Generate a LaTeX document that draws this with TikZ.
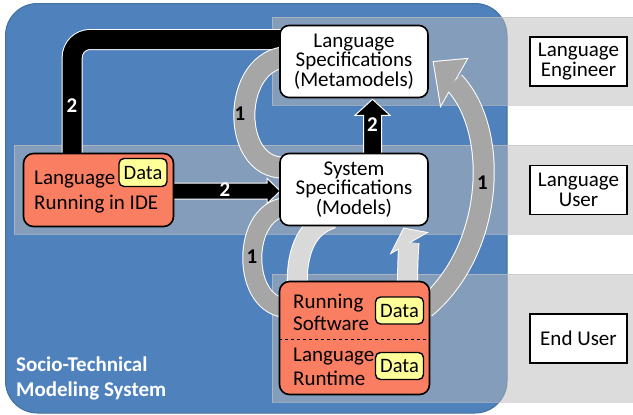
\documentclass[tikz,border=0pt]{standalone}
\usepackage{fontspec}
\setmainfont{Carlito}
\usetikzlibrary{calc}
\definecolor{bluebg}{HTML}{4F81BD}
\definecolor{blueedge}{HTML}{41719C}
\definecolor{bandgray}{HTML}{B9B9B9}
\definecolor{bandedge}{HTML}{C4C4C4}
\definecolor{salmon}{HTML}{FA7F62}
\definecolor{datayel}{HTML}{FFFF99}
\definecolor{arrgray}{HTML}{A6A6A6}
\definecolor{arrlight}{HTML}{D9D9D9}
\pgfdeclarelayer{bg}
\pgfdeclarelayer{arr}
\pgfsetlayers{bg,arr,main}
\tikzset{
  band/.style={fill=bandgray, fill opacity=0.5, draw=bandedge, draw opacity=0.6, line width=1pt},
  specbox/.style={draw=black, line width=1.6pt, rounded corners=9pt, fill=white,
    minimum width=148pt, minimum height=72pt, align=center, inner sep=0pt,
    font=\fontsize{21}{19.5}\selectfont},
  salbox/.style={draw=black, line width=1.6pt, rounded corners=10pt, fill=salmon, inner sep=0pt},
  databox/.style={draw=black, line width=1.4pt, rounded corners=5pt, fill=datayel,
    minimum width=48pt, minimum height=27pt, inner sep=0pt, font=\fontsize{20.5}{20}\selectfont},
  rolebox/.style={draw=black, line width=1.8pt, fill=white, minimum width=97pt, minimum height=49pt,
    align=center, inner sep=0pt, font=\fontsize{21}{19.5}\selectfont},
  txt/.style={inner sep=0pt, align=left},
  wlab/.style={inner sep=0pt, text=white, font=\fontsize{21}{21}\selectfont\bfseries},
  blab/.style={inner sep=0pt, text=black, font=\fontsize{21}{21}\selectfont\bfseries},
  blkarrow/.style={fill=black, draw=white, line width=1pt, line join=miter},
}
\begin{document}
\begin{tikzpicture}[x=1pt,y=-1pt]
\useasboundingbox (0,0) rectangle (633,415);
\begin{pgfonlayer}{bg}
  \path[fill=bluebg, draw=blueedge, line width=1pt, rounded corners=32pt] (5.5,3.5) rectangle (507,413);
  \path[band] (272,17) rectangle (640,105);
  \path[band] (14,145) rectangle (640,234);
  \path[band] (272,274) rectangle (640,402);
\end{pgfonlayer}

% nodes
\node[specbox] (meta) at (354,61.5) {Language\\Specifications\\(Metamodels)};
\node[specbox] (sys) at (354,189.5) {System\\Specifications\\(Models)};
\node[salbox, minimum width=150pt, minimum height=73pt] (ide) at (98.5,190) {};
\node[salbox, minimum width=150pt, minimum height=113pt] (rs) at (354.5,338) {};
\draw[dashed, line width=0.8pt] ($(rs.west)+(0,1)$) -- ($(rs.east)+(0,1)$);
\node[databox, minimum height=28pt] (d1) at (143,172.5) {Data};
\node[databox] (d2) at (399.5,310.5) {Data};
\node[databox] (d3) at (399.5,366) {Data};
\node[txt, anchor=west, font=\fontsize{21}{25}\selectfont] (idet) at (34,192) {Language\\Running in IDE};
\node[txt, anchor=west, font=\fontsize{21}{22}\selectfont] (rst) at (293,312) {Running\\Software};
\node[txt, anchor=west, font=\fontsize{21}{24}\selectfont] (lrt) at (293,367) {Language\\Runtime};
\node[rolebox] (eng) at (578.5,61.5) {Language\\Engineer};
\node[rolebox] (usr) at (578.5,190) {Language\\User};
\node[rolebox] (endu) at (578.5,338.5) {End User};
\node[txt, anchor=west, text=white, font=\fontsize{21}{25}\selectfont\bfseries] (socio) at (16,378) {Socio-Technical\\Modeling System};

% arrows
\begin{pgfonlayer}{arr}
  % black: IDE -> Metamodels
  \draw[white, line width=21pt, rounded corners=18pt] ($(ide.north west)+(49.5,8)$) |- ($(meta.west)+(8,-22)$);
  \draw[black, line width=19pt, rounded corners=18pt] ($(ide.north west)+(49.5,8)$) |- ($(meta.west)+(8,-22)$);
  % black: IDE -> Models
  \draw[blkarrow] ($(ide.east)+(-4,-7)$) -- ($(sys.west)+(-12,-6.5)$) -- ++(0,-4.5)
     -- ($(sys.west)+(1,1.5)$) -- ++(-13,12.5) -- ++(0,-4.5) -- ($(ide.east)+(-4,9)$) -- cycle;
  % black: Models -> Metamodels
  \draw[blkarrow] ($(sys.north)+(9.5,6)$) -- ($(meta.south)+(9.5,17)$) -- ++(-8.5,0)
     -- ($(meta.south)+(18.5,1)$) -- ++(17.5,16) -- ++(-8.5,0) -- ($(sys.north)+(27.5,6)$) -- cycle;
  % gray upper-left loop
  \draw[white, line width=22pt] ($(meta.west)+(10,-4.5)$) .. controls ($(meta.west)+(-50,-4.5)$) and ($(sys.west)+(-50,-12.5)$) .. ($(sys.west)+(11,-22.5)$);
  \draw[arrgray, line width=20pt] ($(meta.west)+(10,-4.5)$) .. controls ($(meta.west)+(-50,-4.5)$) and ($(sys.west)+(-50,-12.5)$) .. ($(sys.west)+(11,-22.5)$);
  % gray lower-left loop
  \draw[white, line width=20pt] ($(sys.west)+(11,17.5)$) .. controls ($(sys.west)+(-39,15.5)$) and ($(rs.west)+(-39.5,-28)$) .. ($(rs.west)+(11,-30)$);
  \draw[arrgray, line width=18pt] ($(sys.west)+(11,17.5)$) .. controls ($(sys.west)+(-39,15.5)$) and ($(rs.west)+(-39.5,-28)$) .. ($(rs.west)+(11,-30)$);
  % light left arc
  \draw[white, line width=21pt] ($(sys.south)+(-22,-8)$) .. controls ($(sys.south)+(-50,1)$) and ($(rs.north)+(-59,-25)$) .. ($(rs.north)+(-57,11)$);
  \draw[arrlight, line width=19pt] ($(sys.south)+(-22,-8)$) .. controls ($(sys.south)+(-50,1)$) and ($(rs.north)+(-59,-25)$) .. ($(rs.north)+(-57,11)$);
  % light right arrow
  \draw[white, line width=21pt] ($(rs.north)+(53,11)$) .. controls ($(rs.north)+(53,-11)$) and ($(rs.north)+(53.5,-26)$) .. ($(rs.north)+(54.5,-38.25)$);
  \draw[white, fill=white, line width=2pt, line join=miter] ($(rs.north)+(37.5,-28.5)$) -- ($(rs.north)+(49.5,-52)$) -- ($(rs.north)+(71.5,-48)$) -- cycle;
  \fill[arrlight] ($(rs.north)+(37.5,-28.5)$) -- ($(rs.north)+(49.5,-52)$) -- ($(rs.north)+(71.5,-48)$) -- cycle;
  \draw[arrlight, line width=19pt] ($(rs.north)+(53,11)$) .. controls ($(rs.north)+(53,-11)$) and ($(rs.north)+(53.5,-26)$) .. ($(rs.north)+(54.5,-38.25)$);
  % big gray right arrow
  \draw[white, line width=22pt] ($(rs.east)+(-5.5,-30)$) .. controls ($(rs.east)+(64.5,-88)$) and ($(meta.east)+(71,68.5)$) .. ($(meta.east)+(25,20.5)$);
  \draw[white, fill=white, line width=2pt, line join=miter] ($(meta.east)+(38,-2.5)$) -- ($(meta.east)+(5,0.5)$) -- ($(meta.east)+(12,43.5)$) -- cycle;
  \fill[arrgray] ($(meta.east)+(38,-2.5)$) -- ($(meta.east)+(5,0.5)$) -- ($(meta.east)+(12,43.5)$) -- cycle;
  \draw[arrgray, line width=20pt] ($(rs.east)+(-5.5,-30)$) .. controls ($(rs.east)+(64.5,-88)$) and ($(meta.east)+(71,68.5)$) .. ($(meta.east)+(25,20.5)$);
\end{pgfonlayer}

% labels
\node[wlab] (n2a) at (72,106) {2};
\node[wlab] (n2b) at (225,190) {2};
\node[wlab] (n2c) at (372.5,125) {2};
\node[blab] (n1a) at (240,114) {1};
\node[blab] (n1b) at (252,257) {1};
\node[blab] (n1c) at (482.5,183) {1};
\end{tikzpicture}
\end{document}
